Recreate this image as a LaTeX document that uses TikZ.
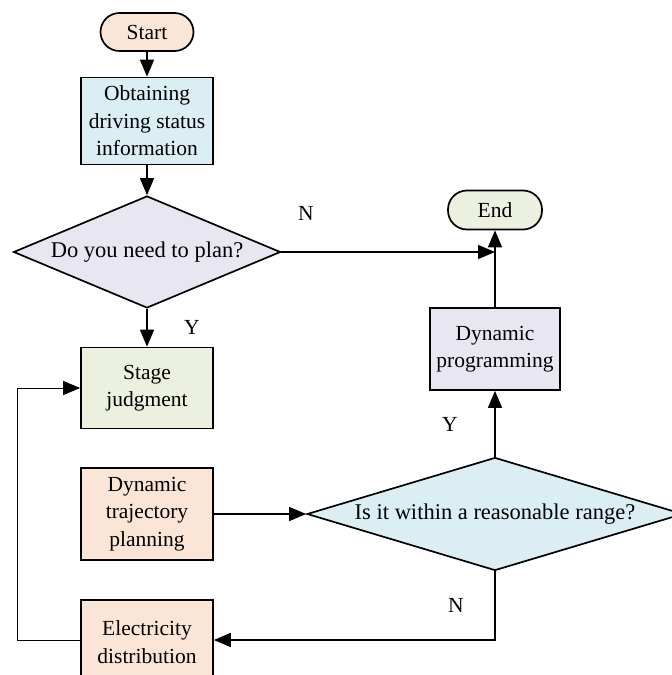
\documentclass[tikz,border=0pt]{standalone}
\usepackage{fontspec}
\setmainfont{Liberation Serif}
\usetikzlibrary{shapes.geometric,arrows.meta}
\definecolor{peach}{HTML}{FBE5D6}
\definecolor{iceblue}{HTML}{DAEEF3}
\definecolor{lavender}{HTML}{E8E6F0}
\definecolor{sage}{HTML}{EBF1DE}
\begin{document}
\begin{tikzpicture}[x=1pt,y=-1pt,
  every node/.style={font=\fontsize{21.5}{27.5}\selectfont},
  pill/.style={draw,line width=1.7pt,rounded corners=19pt,inner sep=0pt,
    minimum width=93pt,minimum height=38pt},
  procbox/.style={draw,line width=1.7pt,inner sep=0pt,align=center,
    minimum width=132pt},
  decision/.style={draw,diamond,line width=1.7pt,inner sep=0pt,
    font=\fontsize{22.5}{27}\selectfont},
  flow/.style={line width=1.5pt,-{Triangle[length=17pt,width=14pt]}},
  tag/.style={inner sep=0pt}]
\useasboundingbox (0,0) rectangle (672,675);

% left column
\node[pill,fill=peach] (start) at (147,32) {Start};
\node[procbox,fill=iceblue,minimum height=87pt] (info) at (147,121)
  {Obtaining\\driving status\\information};
\node[decision,fill=lavender,shape aspect=2.38,minimum width=267pt,minimum height=112pt]
  (plan) at (147,252) {Do you need to plan?};
\node[procbox,fill=sage,minimum height=81pt] (stage) at (147,388)
  {Stage\\judgment};
\node[procbox,fill=peach,minimum height=92pt] (traj) at (147,514)
  {Dynamic\\trajectory\\planning};
\node[procbox,fill=peach,minimum height=84pt] (elec) at (147,642)
  {Electricity\\distribution};

% right column
\node[pill,fill=sage,minimum width=94pt,minimum height=39pt] (end) at (495,210) {End};
\node[procbox,fill=lavender,minimum width=130pt,minimum height=82pt]
  (dp) at (495,349) {Dynamic\\programming};
\node[decision,fill=iceblue,shape aspect=3.33,minimum width=376pt,minimum height=113pt]
  (range) at (495,514) {Is it within a reasonable range?};

% junction points
\coordinate (join) at (495,252);
\coordinate (drop) at (495,640);
\coordinate (loopL) at (17,640);
\coordinate (loopU) at (17,388);

% connectors
\draw[flow] (start) -- (info);
\draw[flow] (info) -- (plan.north);
\draw[flow] (plan.south) -- (stage);
\draw[flow] (plan.east) -- (join);
\draw[flow] (dp) -- (end);
\draw[flow] (range.north) -- (dp);
\draw[flow] (traj) -- (range.west);
\draw[flow] (range.south) -- (drop) -- (elec.east |- drop);
\draw[line width=1pt,-{Triangle[length=17pt,width=14pt]}]
  (elec.west |- drop) -- (loopL) -- (loopU) -- (stage.west);

% branch labels
\node[tag] (n1) at (306,213) {N};
\node[tag] (y1) at (192,327) {Y};
\node[tag] (y2) at (450,424) {Y};
\node[tag] (n2) at (456,605) {N};
\end{tikzpicture}
\end{document}
